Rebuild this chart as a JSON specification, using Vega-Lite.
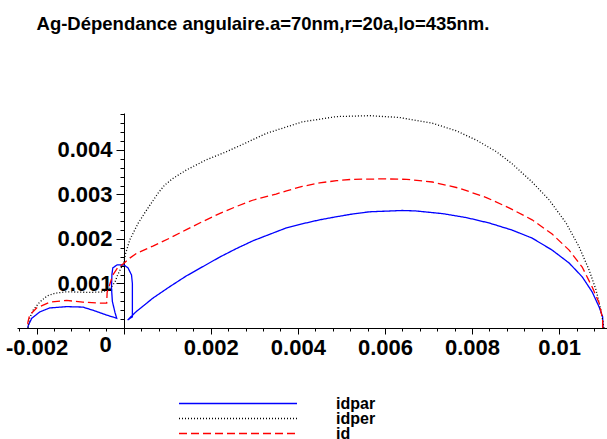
{
 "$schema": "https://vega.github.io/schema/vega-lite/v6.json",
 "width": 590, "height": 215,
 "autosize": "none",
 "padding": {"left": 17, "top": 113, "right": 0, "bottom": 111},
 "background": "white",
 "title": {"text": "Ag-Dépendance angulaire.a=70nm,r=20a,lo=435nm.", "font": "Liberation Sans", "fontSize": 18.5, "fontWeight": "bold", "anchor": "middle", "frame": "group", "dx": -49, "offset": 80, "color": "black"},
 "config": {"view": {"stroke": null}, "axis": {"grid": false, "domainColor": "black", "tickColor": "black", "labelColor": "black", "labelFont": "Liberation Sans", "labelFontWeight": "bold", "labelFontSize": 22, "domainWidth": 1, "tickWidth": 1}},
 "datasets": {"curves": [
  {"series":"idpar","x":0.01101,"y":0},{"series":"idpar","x":0.011,"y":0.00025},{"series":"idpar","x":0.01092,"y":0.00047},{"series":"idpar","x":0.01076,"y":0.00081},{"series":"idpar","x":0.01053,"y":0.00115},{"series":"idpar","x":0.01023,"y":0.00146},{"series":"idpar","x":0.00984,"y":0.00175},{"series":"idpar","x":0.00938,"y":0.00202},{"series":"idpar","x":0.00892,"y":0.0022},{"series":"idpar","x":0.00839,"y":0.00236},{"series":"idpar","x":0.00787,"y":0.00248},{"series":"idpar","x":0.00732,"y":0.00257},{"series":"idpar","x":0.0067,"y":0.00263},{"series":"idpar","x":0.0064,"y":0.00264},{"series":"idpar","x":0.00564,"y":0.00261},{"series":"idpar","x":0.00525,"y":0.00256},{"series":"idpar","x":0.00489,"y":0.0025},{"series":"idpar","x":0.0045,"y":0.00243},{"series":"idpar","x":0.0041,"y":0.00234},{"series":"idpar","x":0.00374,"y":0.00225},{"series":"idpar","x":0.0035,"y":0.00216},{"series":"idpar","x":0.00297,"y":0.00196},{"series":"idpar","x":0.00258,"y":0.00178},{"series":"idpar","x":0.0022,"y":0.00159},{"series":"idpar","x":0.00182,"y":0.00138},{"series":"idpar","x":0.00144,"y":0.00117},{"series":"idpar","x":0.00106,"y":0.00093},{"series":"idpar","x":0.00067,"y":0.00067},{"series":"idpar","x":0.00029,"y":0.00037},{"series":"idpar","x":0.00009,"y":0.00018},{"series":"idpar","x":0.0002,"y":0.00025},{"series":"idpar","x":0.0002,"y":0.0006},{"series":"idpar","x":0.0002,"y":0.001},{"series":"idpar","x":0.00018,"y":0.00119},{"series":"idpar","x":0.0001,"y":0.00135},{"series":"idpar","x":0,"y":0.00142},{"series":"idpar","x":-0.00015,"y":0.00142},{"series":"idpar","x":-0.00025,"y":0.00135},{"series":"idpar","x":-0.00027,"y":0.0012},{"series":"idpar","x":-0.00028,"y":0.0009},{"series":"idpar","x":-0.00026,"y":0.0006},{"series":"idpar","x":-0.0002,"y":0.00035},{"series":"idpar","x":-0.00016,"y":0.00022},{"series":"idpar","x":-0.00039,"y":0.00029},{"series":"idpar","x":-0.00071,"y":0.0004},{"series":"idpar","x":-0.00094,"y":0.00047},{"series":"idpar","x":-0.00131,"y":0.00048},{"series":"idpar","x":-0.0017,"y":0.00045},{"series":"idpar","x":-0.00193,"y":0.00036},{"series":"idpar","x":-0.00211,"y":0.00022},{"series":"idpar","x":-0.00219,"y":0.00006},{"series":"idpar","x":-0.0022,"y":0},
  {"series":"idper","x":0.01103,"y":0},{"series":"idper","x":0.01096,"y":0.0004},{"series":"idper","x":0.01085,"y":0.00085},{"series":"idper","x":0.01069,"y":0.0013},{"series":"idper","x":0.01046,"y":0.00182},{"series":"idper","x":0.01016,"y":0.00236},{"series":"idper","x":0.00977,"y":0.00288},{"series":"idper","x":0.00938,"y":0.00328},{"series":"idper","x":0.00892,"y":0.00369},{"series":"idper","x":0.00856,"y":0.00396},{"series":"idper","x":0.0081,"y":0.00422},{"series":"idper","x":0.00764,"y":0.00443},{"series":"idper","x":0.00709,"y":0.0046},{"series":"idper","x":0.00633,"y":0.00473},{"series":"idper","x":0.00564,"y":0.00477},{"series":"idper","x":0.00489,"y":0.00475},{"series":"idper","x":0.0041,"y":0.00463},{"series":"idper","x":0.00327,"y":0.00437},{"series":"idper","x":0.00281,"y":0.00416},{"series":"idper","x":0.00236,"y":0.00396},{"series":"idper","x":0.0019,"y":0.00378},{"series":"idper","x":0.00144,"y":0.00355},{"series":"idper","x":0.00113,"y":0.00336},{"series":"idper","x":0.00094,"y":0.00321},{"series":"idper","x":0.00079,"y":0.00303},{"series":"idper","x":0.00063,"y":0.0028},{"series":"idper","x":0.00048,"y":0.00258},{"series":"idper","x":0.00033,"y":0.00235},{"series":"idper","x":0.00014,"y":0.00198},{"series":"idper","x":0.00004,"y":0.00166},{"series":"idper","x":0,"y":0.00146},{"series":"idper","x":-0.00014,"y":0.00119},{"series":"idper","x":-0.0002,"y":0.00103},{"series":"idper","x":-0.0003,"y":0.0009},{"series":"idper","x":-0.00048,"y":0.00081},{"series":"idper","x":-0.0008,"y":0.0008},{"series":"idper","x":-0.00117,"y":0.00081},{"series":"idper","x":-0.00135,"y":0.00081},{"series":"idper","x":-0.00158,"y":0.00078},{"series":"idper","x":-0.00176,"y":0.00072},{"series":"idper","x":-0.00193,"y":0.00058},{"series":"idper","x":-0.00208,"y":0.0004},{"series":"idper","x":-0.00216,"y":0.00022},{"series":"idper","x":-0.0022,"y":0},
  {"series":"id","x":0.011,"y":0},{"series":"id","x":0.011,"y":0.0002},{"series":"id","x":0.01092,"y":0.00056},{"series":"id","x":0.01076,"y":0.00092},{"series":"id","x":0.01053,"y":0.00137},{"series":"id","x":0.01023,"y":0.00175},{"series":"id","x":0.00984,"y":0.00211},{"series":"id","x":0.00938,"y":0.00243},{"series":"id","x":0.00885,"y":0.0027},{"series":"id","x":0.00833,"y":0.00293},{"series":"id","x":0.00771,"y":0.00314},{"series":"id","x":0.00709,"y":0.00328},{"series":"id","x":0.0065,"y":0.00334},{"series":"id","x":0.006,"y":0.00335},{"series":"id","x":0.00525,"y":0.00334},{"series":"id","x":0.00489,"y":0.00331},{"series":"id","x":0.0045,"y":0.00326},{"series":"id","x":0.0041,"y":0.00318},{"series":"id","x":0.00374,"y":0.00308},{"series":"id","x":0.0035,"y":0.00301},{"series":"id","x":0.00296,"y":0.00287},{"series":"id","x":0.00259,"y":0.00273},{"series":"id","x":0.0022,"y":0.00257},{"series":"id","x":0.00181,"y":0.00239},{"series":"id","x":0.00144,"y":0.00221},{"series":"id","x":0.00106,"y":0.00202},{"series":"id","x":0.00067,"y":0.00184},{"series":"id","x":0.0003,"y":0.00168},{"series":"id","x":0.00014,"y":0.00157},{"series":"id","x":0,"y":0.00145},{"series":"id","x":-0.00014,"y":0.00135},{"series":"id","x":-0.00025,"y":0.00119},{"series":"id","x":-0.00033,"y":0.00095},{"series":"id","x":-0.00038,"y":0.0008},{"series":"id","x":-0.00039,"y":0.00056},{"series":"id","x":-0.00055,"y":0.00056},{"series":"id","x":-0.00094,"y":0.00058},{"series":"id","x":-0.00131,"y":0.00062},{"series":"id","x":-0.0017,"y":0.00058},{"series":"id","x":-0.002,"y":0.00045},{"series":"id","x":-0.00216,"y":0.00029},{"series":"id","x":-0.0022,"y":0.00013},{"series":"id","x":-0.0022,"y":0}
 ]},
 "layer": [
  {"data": {"name": "curves"},
   "mark": {"type": "line", "strokeWidth": 1.3},
   "encoding": {
    "x": {"field": "x", "type": "quantitative", "scale": {"domain": [-0.00245, 0.0111], "nice": false, "zero": false},
          "axis": {"orient": "bottom", "values": [-0.002, 0, 0.002, 0.004, 0.006, 0.008, 0.01], "labelExpr": "datum.value == 0 ? '' : (datum.value < 0 ? '-' + format(-datum.value, '.3~f') : format(datum.value, '.3~f'))", "tickSize": 6, "labelPadding": 3, "title": null, "labelFlush": false, "labelOverlap": false}},
    "y": {"field": "y", "type": "quantitative", "scale": {"domain": [0, 0.00483], "nice": false},
          "axis": {"orient": "left", "values": [0.001, 0.002, 0.003, 0.004], "format": ".3~f", "offset": -107, "tickSize": 8, "labelPadding": 4, "title": null, "labelFlush": false, "labelOverlap": false}},
    "color": {"field": "series", "type": "nominal", "scale": {"domain": ["idpar", "idper", "id"], "range": ["#0000ff", "#000000", "#ff0000"]},
              "legend": {"orient": "none", "legendX": 161, "legendY": 284, "title": null, "symbolType": "stroke", "symbolSize": 13924, "symbolStrokeWidth": 1.3, "clipHeight": 13, "rowPadding": -4, "labelOffset": 38, "labelFont": "Liberation Sans", "labelFontWeight": "bold", "labelFontSize": 16, "labelColor": "black", "padding": 0}},
    "strokeDash": {"field": "series", "type": "nominal", "scale": {"domain": ["idpar", "idper", "id"], "range": [[1, 0], [1, 2], [8, 4]]},
              "legend": {"orient": "none", "legendX": 161, "legendY": 284, "title": null, "symbolType": "stroke", "symbolSize": 13924, "symbolStrokeWidth": 1.3, "clipHeight": 13, "rowPadding": -4, "labelOffset": 38, "labelFont": "Liberation Sans", "labelFontWeight": "bold", "labelFontSize": 16, "labelColor": "black", "padding": 0}},
    "order": {"value": null}
   }
  },
  {"data": {"values": [{}]},
   "mark": {"type": "rule", "opacity": 0},
   "encoding": {
    "x": {"datum": 0, "type": "quantitative",
          "axis": {"orient": "bottom", "values": [-0.0024, -0.0016, -0.0012, -0.0008, -0.0004, 0.0004, 0.0008, 0.0012, 0.0016, 0.0024, 0.0028, 0.0032, 0.0036, 0.0044, 0.0048, 0.0052, 0.0056, 0.0064, 0.0068, 0.0072, 0.0076, 0.0084, 0.0088, 0.0092, 0.0096, 0.0104, 0.0108], "labels": false, "domain": false, "tickSize": 3, "title": null}},
    "y": {"datum": 0, "type": "quantitative",
          "axis": {"orient": "left", "values": [0.0002, 0.0004, 0.0006, 0.0008, 0.0012, 0.0014, 0.0016, 0.0018, 0.0022, 0.0024, 0.0026, 0.0028, 0.0032, 0.0034, 0.0036, 0.0038, 0.0042, 0.0044, 0.0046, 0.0048], "labels": false, "domain": false, "tickSize": 4, "offset": -107, "title": null}}
   }
  },
  {"data": {"values": [{}]},
   "mark": {"type": "text", "text": "0", "align": "right", "baseline": "top", "dx": -12, "dy": 7, "font": "Liberation Sans", "fontWeight": "bold", "fontSize": 22, "color": "black", "clip": false},
   "encoding": {
    "x": {"datum": 0, "type": "quantitative", "axis": null},
    "y": {"datum": 0, "type": "quantitative", "axis": null}
   }
  }
 ],
 "resolve": {"axis": {"x": "independent", "y": "independent"}}
}
